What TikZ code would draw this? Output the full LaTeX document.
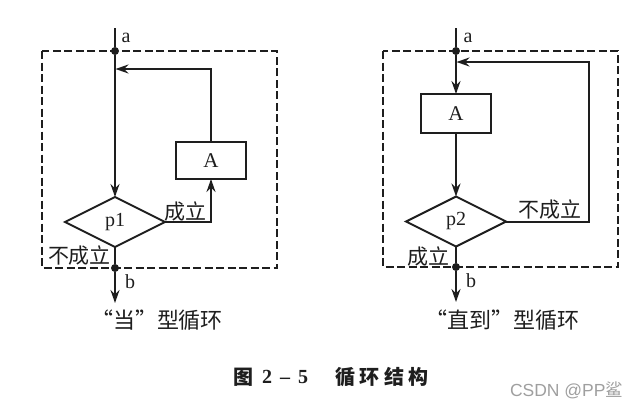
\documentclass[tikz,border=0pt]{standalone}
\usepackage{fontspec}
\setmainfont{Liberation Serif}
\newfontfamily\cjk{Noto Sans CJK SC}
\setsansfont{Liberation Sans}
\usetikzlibrary{shapes.geometric,arrows.meta,calc}
\definecolor{ink}{HTML}{1E1E1E}
\tikzset{
  x=1pt,y=-1pt,
  every path/.style={line width=2pt},
  every node/.style={text=ink,inner sep=0pt,outer sep=0pt},
  proc/.style={draw=ink,line width=2pt,rectangle,minimum width=70pt,font=\fontsize{21}{21}\selectfont},
  cond/.style={draw=ink,line width=2pt,diamond,aspect=2,minimum width=100pt,minimum height=50pt,font=\fontsize{20}{20}\selectfont},
  frame/.style={draw=ink,line width=1.8pt,dash pattern=on 8pt off 3.5pt},
  dot/.style={circle,fill=ink,draw=none,minimum size=8pt},
  arr/.style={-{Stealth[length=13pt,width=9pt]}},
  lat/.style={font=\fontsize{20}{20}\selectfont},
  zh/.style={font=\cjk\fontsize{21}{21}\selectfont},
  captext/.style={font=\cjk\fontsize{22}{22}\selectfont},
}
\begin{document}
\begin{tikzpicture}[draw=ink]
\useasboundingbox (0,0) rectangle (638,408);
% left
\path[frame] (42,51) rectangle (277,268);
\coordinate (la0) at (115,28);
\node[dot] (la) at (115,51) {};
\node[dot] (lb) at (115,268) {};
\coordinate (lend) at (115,303);
\coordinate (lj) at (115.5,69);
\node[cond] (p1) at (115,222) {p1};
\node[proc,minimum height=37pt] (A1) at (211,160.5) {A};
\draw (la0) -- (la);
\draw[arr] (la) -- (p1.north);
\draw (p1.south) -- (lb);
\draw[arr] (lb) -- (lend);
\draw[arr] (p1.east) -- (A1.south |- p1.east) -- (A1.south);
\draw[arr] (A1.north) -- (A1.north |- lj) -- (lj);
\node[lat] (la1) at (126,38) {a};
\node[lat] (lb1) at (130,282) {b};
\node[zh] (ly) at (185,212) {成立};
\node[zh] (ln) at (79.5,256) {不成立};
\node[captext] (lc) at (157,320) {“当”型循环};
% right
\path[frame] (383,51) rectangle (618,267);
\coordinate (ra0) at (456,28);
\node[dot] (ra) at (456,51) {};
\node[dot] (rb) at (456,267) {};
\coordinate (rend) at (456,302);
\coordinate (rj) at (456.5,62);
\node[proc,minimum height=39pt] (A2) at (456,113.5) {A};
\node[cond] (p2) at (456,221.5) {p2};
\draw (ra0) -- (ra);
\draw[arr] (ra) -- (A2.north);
\draw[arr] (A2.south) -- (p2.north);
\draw (p2.south) -- (rb);
\draw[arr] (rb) -- (rend);
\coordinate (rc) at (589,221.5);
\draw[arr] (p2.east) -- (rc) -- (rc |- rj) -- (rj);
\node[lat] (ra1) at (468,38) {a};
\node[lat] (rb1) at (471,281) {b};
\node[zh] (rn) at (550,210) {不成立};
\node[zh] (ry) at (428,257) {成立};
\node[captext] (rcap) at (502,320) {“直到”型循环};
% caption
\node[font=\cjk\bfseries\fontsize{20}{20}\selectfont,anchor=west] (c1) at (233,377) {图};
\node[font=\bfseries\fontsize{20}{20}\selectfont,anchor=west] (c2) at (262,377) {2\kern8pt–\kern8pt5};
\node[font=\cjk\bfseries\fontsize{20}{20}\selectfont,anchor=west] (c3) at (335,377) {循\kern4.5pt环\kern4.5pt结\kern4.5pt构};
\node[font=\sffamily\fontsize{17.5}{17.5}\selectfont,anchor=west,text=gray!75] (w) at (510,390) {CSDN @PP{\cjk 鲨}};
\end{tikzpicture}
\end{document}
